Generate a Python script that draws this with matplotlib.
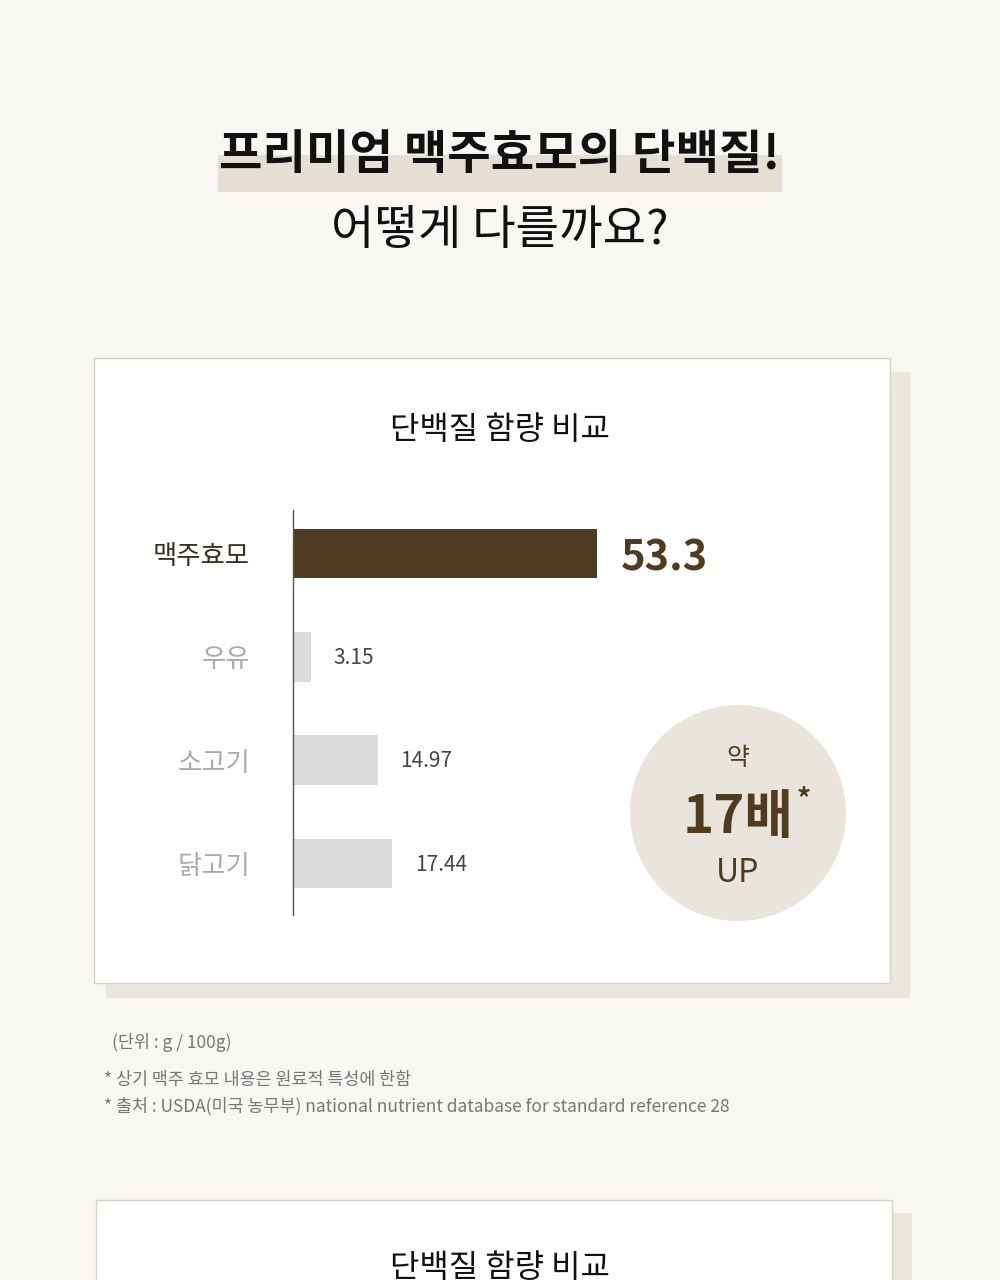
import numpy as np
import matplotlib
matplotlib.use("Agg")
import matplotlib.pyplot as plt
from matplotlib.patches import Rectangle, Circle

plt.rcParams['font.family'] = ['Noto Sans CJK KR', 'DejaVu Sans']

# ─── DATA ───────────────────────────────────────────────
categories = ["맥주효모", "우유", "소고기", "닭고기"]
protein = [53.3, 3.15, 14.97, 17.44]
value_text = ["53.3", "3.15", "14.97", "17.44"]

title_1 = "프리미엄 맥주효모의 단백질!"
title_2 = "어떻게 다를까요?"
card_title = "단백질 함량 비교"
unit_note = "(단위 : g / 100g)"
notes = ["* 상기 맥주 효모 내용은 원료적 특성에 한함",
         "* 출처 : USDA(미국 농무부) national nutrient database for standard reference 28"]

# ─── COLORS ─────────────────────────────────────────────
BG = "#f8f7f4"
BROWN = "#4e3b20"
GREY_BAR = "#dbdbdb"
GREY_TXT = "#aaaaaa"
SHADOW = "#ebe6dd"
HILITE = "#e4ded4"
CIRCLE = "#e9e5dc"

W, H = 1000, 1280
fig = plt.figure(figsize=(W / 100, H / 100), dpi=100)
fig.patch.set_facecolor(BG)

# overlay axes in pixel coordinates
bg = fig.add_axes([0, 0, 1, 1], zorder=0)
bg.set_xlim(0, W)
bg.set_ylim(H, 0)
bg.axis("off")

# headline
bg.add_patch(Rectangle((218, 155), 564, 37, color=HILITE, lw=0))
bg.text(500, 155, title_1, ha="center", va="center", fontsize=34,
        fontweight="bold", color="#111111")
bg.text(500, 231, title_2, ha="center", va="center", fontsize=34,
        color="#111111")

# card 1
bg.add_patch(Rectangle((106, 372), 804, 626, color=SHADOW, lw=0))
bg.add_patch(Rectangle((94, 358), 796, 625, facecolor="white",
                       edgecolor="#d6d0c5", lw=1))
bg.text(500, 430, card_title, ha="center", va="center", fontsize=23,
        color="#111111")

# circle badge
bg.add_patch(Circle((738, 813), 108, color=CIRCLE, lw=0))
bg.text(738, 758, "약", ha="center", va="center", fontsize=18, color=BROWN)
bg.text(738, 817, "17배", ha="center", va="center", fontsize=38,
        fontweight="bold", color=BROWN)
bg.text(804, 799, "*", ha="center", va="center", fontsize=20,
        fontweight="bold", color=BROWN)
bg.text(738, 873, "UP", ha="center", va="center", fontsize=23, color=BROWN)

# footnotes
bg.text(112, 1042, unit_note, ha="left", va="center", fontsize=12.5, color="#777777")
for i, n in enumerate(notes):
    bg.text(104, 1080 + i * 26, n, ha="left", va="center", fontsize=12.5,
            color="#777777")

# card 2 (cut off at the bottom edge, as in the page)
bg.add_patch(Rectangle((108, 1213), 804, 200, color=SHADOW, lw=0))
bg.add_patch(Rectangle((96, 1200), 796, 200, facecolor="white",
                       edgecolor="#d6d0c5", lw=1))
bg.text(500, 1268, card_title, ha="center", va="center", fontsize=23,
        color="#111111")

# ─── BAR CHART ──────────────────────────────────────────
ax_left, ax_top, ax_w, ax_h = 293, 510, 342, 405
ax = fig.add_axes([ax_left / W, 1 - (ax_top + ax_h) / H, ax_w / W, ax_h / H],
                  zorder=1)
ax.patch.set_alpha(0)

y = np.arange(len(categories))
colors = [BROWN] + [GREY_BAR] * (len(categories) - 1)
ax.barh(y, protein, height=0.48, color=colors)
ax.set_xlim(0, 60)
ax.set_ylim(3.5, -0.42)

for s in ["top", "right", "bottom"]:
    ax.spines[s].set_visible(False)
ax.spines["left"].set_color("#555555")
ax.spines["left"].set_linewidth(1)
ax.set_xticks([])
ax.set_yticks(y)
ax.set_yticklabels(categories, fontsize=19)
ax.tick_params(axis="y", length=0, pad=31)
for i, lab in enumerate(ax.get_yticklabels()):
    lab.set_color("#3a2e1e" if i == 0 else GREY_TXT)

for i, (v, t) in enumerate(zip(protein, value_text)):
    if i == 0:
        ax.annotate(t, (v, i), xytext=(17, -4), textcoords="offset points",
                    ha="left", va="center", fontsize=30, fontweight="bold",
                    color=BROWN)
    else:
        ax.annotate(t, (v, i), xytext=(16, -1), textcoords="offset points",
                    ha="left", va="center", fontsize=15, color="#444444")

fig.savefig("out.png", dpi=100, facecolor=BG)
